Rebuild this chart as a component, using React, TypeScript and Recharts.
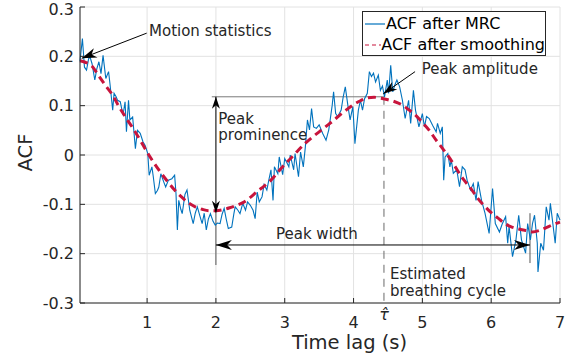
import React from 'react'
import { LineChart, Line, XAxis, YAxis, CartesianGrid, ReferenceLine, ReferenceDot, Legend } from 'recharts'

const INK = '#262626'
const FONT = '"DejaVu Sans", Verdana, sans-serif'
const BLUE = '#0072BD'
const RED = '#C8143C'

const xTicks = [1, 2, 3, 4, 5, 6, 7]
const yTicks = [-0.3, -0.2, -0.1, 0, 0.1, 0.2, 0.3]
const tauHat = 4.442

// ACF after MRC, [lag (s), value]
const rawAcf: [number, number][] = [
  [0.025, 0.19], [0.04, 0.21], [0.06, 0.236], [0.09, 0.178], [0.12, 0.172], [0.15, 0.195], [0.17, 0.199],
  [0.2, 0.185], [0.24, 0.152], [0.27, 0.175], [0.3, 0.189], [0.33, 0.165], [0.36, 0.202], [0.4, 0.155],
  [0.44, 0.169], [0.46, 0.145], [0.5, 0.091], [0.52, 0.125], [0.55, 0.118], [0.57, 0.111], [0.61, 0.108],
  [0.65, 0.081], [0.68, 0.108], [0.7, 0.047], [0.73, 0.111], [0.75, 0.071], [0.79, 0.077], [0.83, 0.013],
  [0.86, 0.05], [0.9, 0.044], [0.94, 0.027], [0.97, 0.02], [1.01, 0.003], [1.03, -0.041], [1.07, -0.024],
  [1.09, -0.044], [1.12, -0.078], [1.15, -0.072], [1.17, -0.065], [1.2, -0.038], [1.24, -0.054],
  [1.27, -0.065], [1.31, -0.051], [1.36, -0.048], [1.4, -0.041], [1.42, -0.078], [1.44, -0.152],
  [1.46, -0.092], [1.49, -0.11], [1.51, -0.119], [1.55, -0.08], [1.58, -0.071], [1.62, -0.112],
  [1.67, -0.139], [1.7, -0.118], [1.73, -0.105], [1.77, -0.125], [1.8, -0.139], [1.83, -0.118],
  [1.86, -0.152], [1.89, -0.13], [1.92, -0.119], [1.96, -0.135], [1.99, -0.142], [2.02, -0.138],
  [2.06, -0.139], [2.09, -0.12], [2.12, -0.108], [2.15, -0.13], [2.18, -0.149], [2.23, -0.146],
  [2.26, -0.12], [2.28, -0.105], [2.32, -0.112], [2.35, -0.119], [2.39, -0.098], [2.43, -0.112],
  [2.46, -0.095], [2.5, -0.102], [2.54, -0.112], [2.57, -0.129], [2.6, -0.075], [2.63, -0.095],
  [2.67, -0.085], [2.7, -0.06], [2.74, -0.071], [2.77, -0.05], [2.8, -0.03], [2.83, -0.092],
  [2.85, -0.024], [2.9, -0.038], [2.92, -0.004], [2.97, -0.04], [3.0, -0.007], [3.03, -0.015],
  [3.06, -0.024], [3.08, 0.0], [3.13, -0.03], [3.15, 0.003], [3.2, -0.044], [3.23, 0.006],
  [3.27, -0.024], [3.3, 0.017], [3.33, 0.071], [3.36, 0.051], [3.39, 0.094], [3.42, 0.057],
  [3.46, 0.054], [3.5, 0.061], [3.55, 0.044], [3.6, 0.03], [3.64, 0.051], [3.69, 0.101], [3.71, 0.128],
  [3.74, 0.084], [3.77, 0.078], [3.82, 0.091], [3.85, 0.118], [3.88, 0.138], [3.92, 0.098],
  [3.95, 0.071], [3.99, 0.098], [4.02, 0.023], [4.07, 0.091], [4.1, 0.111], [4.13, 0.091],
  [4.16, 0.114], [4.2, 0.125], [4.23, 0.169], [4.26, 0.159], [4.29, 0.166], [4.32, 0.148],
  [4.36, 0.162], [4.39, 0.131], [4.42, 0.14], [4.45, 0.118], [4.49, 0.152], [4.51, 0.125],
  [4.54, 0.182], [4.57, 0.128], [4.6, 0.142], [4.63, 0.152], [4.67, 0.138], [4.71, 0.111],
  [4.75, 0.074], [4.8, 0.111], [4.83, 0.064], [4.87, 0.131], [4.9, 0.091], [4.95, 0.057],
  [5.0, 0.084], [5.03, 0.057], [5.06, 0.078], [5.1, 0.074], [5.15, 0.06], [5.2, 0.047], [5.22, 0.064],
  [5.26, 0.044], [5.29, 0.057], [5.31, -0.051], [5.33, -0.004], [5.37, 0.003], [5.4, -0.024],
  [5.42, -0.01], [5.45, -0.037], [5.5, -0.03], [5.54, -0.064], [5.58, -0.024], [5.62, -0.03],
  [5.65, -0.051], [5.7, -0.071], [5.74, -0.058], [5.78, -0.092], [5.81, -0.054], [5.86, -0.092],
  [5.91, -0.118], [5.97, -0.159], [6.02, -0.068], [6.06, -0.139], [6.12, -0.156], [6.16, -0.14],
  [6.21, -0.125], [6.24, -0.179], [6.26, -0.145], [6.31, -0.206], [6.36, -0.172], [6.4, -0.122],
  [6.44, -0.172], [6.5, -0.199], [6.53, -0.139], [6.57, -0.172], [6.6, -0.139], [6.63, -0.122],
  [6.67, -0.179], [6.68, -0.237], [6.72, -0.179], [6.76, -0.193], [6.8, -0.105], [6.84, -0.132],
  [6.86, -0.098], [6.89, -0.132], [6.93, -0.179], [6.96, -0.118], [7.0, -0.132],
]

// ACF after smoothing, [lag (s), value]
const smoothAcf: [number, number][] = [
  [0.025, 0.191], [0.1, 0.188], [0.2, 0.18], [0.3, 0.16], [0.4, 0.14], [0.5, 0.121], [0.6, 0.096],
  [0.7, 0.074], [0.8, 0.053], [0.9, 0.03], [1.0, 0.006], [1.1, -0.016], [1.2, -0.036], [1.3, -0.054],
  [1.4, -0.071], [1.5, -0.085], [1.6, -0.097], [1.7, -0.105], [1.8, -0.11], [1.9, -0.113], [2.0, -0.113],
  [2.1, -0.111], [2.2, -0.107], [2.3, -0.102], [2.4, -0.096], [2.5, -0.086], [2.6, -0.074], [2.7, -0.063],
  [2.8, -0.051], [2.9, -0.035], [3.0, -0.019], [3.1, -0.005], [3.2, 0.01], [3.3, 0.024], [3.4, 0.036],
  [3.5, 0.047], [3.6, 0.058], [3.7, 0.069], [3.8, 0.081], [3.9, 0.092], [4.0, 0.102], [4.1, 0.11],
  [4.2, 0.116], [4.3, 0.117], [4.4, 0.115], [4.5, 0.112], [4.6, 0.108], [4.7, 0.102], [4.8, 0.092],
  [4.9, 0.081], [5.0, 0.066], [5.1, 0.05], [5.2, 0.03], [5.3, 0.012], [5.4, -0.007], [5.5, -0.029],
  [5.6, -0.05], [5.7, -0.067], [5.8, -0.087], [5.9, -0.103], [6.0, -0.117], [6.1, -0.128], [6.2, -0.139],
  [6.3, -0.146], [6.4, -0.15], [6.5, -0.153], [6.6, -0.156], [6.7, -0.153], [6.8, -0.147], [6.9, -0.141],
  [7.0, -0.136],
]

// annotation anchors, in data coordinates
const motionArrow = [{ x: 0.994, y: 0.247 }, { x: 0.05, y: 0.196 }]
const prominenceArrow = [{ x: 2.0, y: -0.117 }, { x: 2.0, y: 0.118 }]
const peakLevel = [{ x: 1.94, y: 0.118 }, { x: tauHat, y: 0.118 }]
const widthArrow = [{ x: 2.0, y: -0.1824 }, { x: 6.564, y: -0.1824 }]
const widthLeftTick = [{ x: 2.0, y: -0.117 }, { x: 2.0, y: -0.223 }]
const widthRightTick = [{ x: 6.564, y: -0.118 }, { x: 6.564, y: -0.219 }]
const amplitudeArrow = [{ x: 4.894, y: 0.169 }, { x: 4.432, y: 0.124 }]
const tauLine = [{ x: tauHat, y: 0.118 }, { x: tauHat, y: -0.3 }]

const notes = [
  { x: 1.028, y: 0.241, text: 'Motion statistics' },
  { x: 2.035, y: 0.0638, text: 'Peak' },
  { x: 2.035, y: 0.0294, text: 'prominence' },
  { x: 4.99, y: 0.164, text: 'Peak amplitude' },
  { x: 2.873, y: -0.171, text: 'Peak width' },
  { x: 4.53, y: -0.2514, text: 'Estimated' },
  { x: 4.53, y: -0.2858, text: 'breathing cycle' },
]

const toRows = (pairs: [number, number][]) => pairs.map(([x, v]) => ({ x, v }))

function head(x1: number, y1: number, x2: number, y2: number, len: number, wid: number) {
  const dx = x2 - x1
  const dy = y2 - y1
  const d = Math.hypot(dx, dy) || 1
  const ux = dx / d
  const uy = dy / d
  const nx = -uy
  const ny = ux
  const bx = x2 - ux * len
  const by = y2 - uy * len
  const pts = [
    [x2, y2],
    [bx + nx * wid / 2, by + ny * wid / 2],
    [x2 - ux * len * 0.7, y2 - uy * len * 0.7],
    [bx - nx * wid / 2, by - ny * wid / 2],
  ]
  return <polygon points={pts.map(p => p.join(',')).join(' ')} fill="#000" stroke="none" />
}

const arrow = (both: boolean, len = 13, wid = 9) => (p: any) => {
  const { x1, y1, x2, y2 } = p
  return (
    <g>
      <line x1={x1} y1={y1} x2={x2} y2={y2} stroke="#000" strokeWidth={1} />
      {head(x1, y1, x2, y2, len, wid)}
      {both && head(x2, y2, x1, y1, len, wid)}
    </g>
  )
}

function Note({ viewBox, text }: any) {
  if (!viewBox) return null
  return (
    <text x={viewBox.x} y={viewBox.y} fill={INK} fontSize={15} fontFamily={FONT}>
      {text}
    </text>
  )
}

function TauLabel({ viewBox }: any) {
  if (!viewBox) return null
  return (
    <text x={viewBox.x} y={viewBox.y + 16.5} fill={INK} fontSize={16} fontFamily={FONT} fontStyle="italic" textAnchor="middle">
      {'τ\u0302'}
    </text>
  )
}

function XTitle() {
  return (
    <text x={349.5} y={348.5} fill={INK} fontSize={19.5} fontFamily={FONT} textAnchor="middle">
      Time lag (s)
    </text>
  )
}

function YTitle() {
  return (
    <text x={32} y={152.5} fill={INK} fontSize={19.5} fontFamily={FONT} textAnchor="middle" transform="rotate(-90 32 152.5)">
      ACF
    </text>
  )
}

function LegendBox() {
  const row = { display: 'flex', alignItems: 'center', height: 21, whiteSpace: 'nowrap' as const }
  return (
    <div style={{ width: 184, height: 45, boxSizing: 'border-box', border: `1px solid ${INK}`, background: '#fff', fontFamily: FONT, fontSize: 16, color: '#000', lineHeight: '21px', paddingTop: 1 }}>
      <div style={row}>
        <svg width={23} height={4} style={{ display: 'block' }}>
          <line x1={2} y1={2} x2={22} y2={2} stroke={BLUE} strokeWidth={1.2} />
        </svg>
        <span>ACF after MRC</span>
      </div>
      <div style={row}>
        <svg width={23} height={4} style={{ display: 'block' }}>
          <line x1={2} y1={2} x2={22} y2={2} stroke={RED} strokeWidth={1.2} strokeDasharray="4 3" />
        </svg>
        <span>ACF after smoothing</span>
      </div>
    </div>
  )
}

const tickStyle = { fill: INK, fontSize: 16, fontFamily: FONT }

export default function App() {
  return (
    <div style={{ position: 'absolute', left: 0, top: 0, background: '#fff' }}>
      <LineChart width={574} height={362} margin={{ top: 7, right: 14, bottom: 0, left: 0 }}>
        <CartesianGrid stroke="#e2e2e2" strokeWidth={1} />
        <XAxis
          dataKey="x"
          type="number"
          domain={[0.025, 7]}
          ticks={xTicks}
          height={59}
          tickSize={-5}
          tickMargin={19}
          stroke={INK}
          tick={tickStyle}
          label={<XTitle />}
        />
        <XAxis xAxisId="top" orientation="top" type="number" domain={[0.025, 7]} ticks={xTicks} height={0} tickSize={-5} tick={false} stroke={INK} />
        <YAxis
          type="number"
          domain={[-0.3, 0.3]}
          ticks={yTicks}
          width={80}
          tickSize={-5}
          tickMargin={11}
          stroke={INK}
          tick={tickStyle}
          label={<YTitle />}
        />
        <YAxis yAxisId="right" orientation="right" type="number" domain={[-0.3, 0.3]} ticks={yTicks} width={0} tickSize={-5} tick={false} stroke={INK} />

        <ReferenceLine segment={tauLine} stroke="#6a6a6a" strokeWidth={1} strokeDasharray="8 6" />
        <ReferenceLine segment={peakLevel} stroke="#7a7a7a" strokeWidth={1} />
        <ReferenceLine segment={widthLeftTick} stroke="#555" strokeWidth={1} />
        <ReferenceLine segment={widthRightTick} stroke="#555" strokeWidth={1} />

        <Line data={toRows(rawAcf)} dataKey="v" type="linear" stroke={BLUE} strokeWidth={1.1} dot={false} isAnimationActive={false} />
        <Line data={toRows(smoothAcf)} dataKey="v" type="monotone" stroke={RED} strokeWidth={3} strokeDasharray="8 5" dot={false} isAnimationActive={false} />

        <ReferenceLine segment={motionArrow} shape={arrow(false, 15, 10)} />
        <ReferenceLine segment={prominenceArrow} shape={arrow(true, 12, 8)} />
        <ReferenceLine segment={widthArrow} shape={arrow(true, 16, 10)} />
        <ReferenceLine segment={amplitudeArrow} shape={arrow(false, 14, 9)} />

        {notes.map(n => (
          <ReferenceDot key={n.text} x={n.x} y={n.y} r={0} fill="none" stroke="none" label={<Note text={n.text} />} />
        ))}
        <ReferenceDot x={tauHat} y={-0.3} r={0} fill="none" stroke="none" label={<TauLabel />} />

        <Legend
          layout="vertical"
          align="center"
          verticalAlign="middle"
          content={<LegendBox />}
          wrapperStyle={{ position: 'absolute', left: 362, top: 11, width: 184, height: 45 }}
        />
      </LineChart>
    </div>
  )
}
